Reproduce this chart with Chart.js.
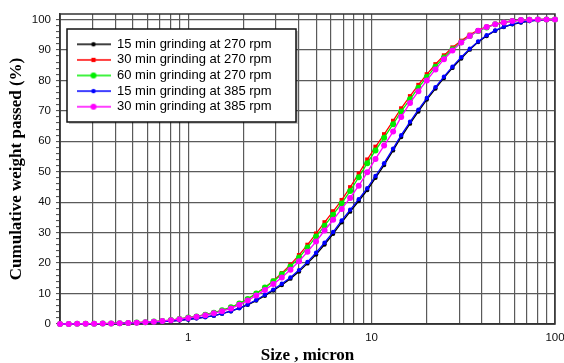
<!DOCTYPE html>
<html>
<head>
<meta charset="utf-8">
<script src="https://cdn.jsdelivr.net/npm/chart.js@4"></script>
<style>
html,body{margin:0;padding:0;overflow:hidden;background:#fff;width:564px;height:363px}
canvas{display:block}
</style>
</head>
<body>
<canvas id="c" width="580" height="370"></canvas>
<script>
// ---- data ----
const SIZES = [0.2, 0.223, 0.248, 0.276, 0.307, 0.342, 0.38, 0.423, 0.471, 0.524, 0.584, 0.65, 0.723, 0.805, 0.896,
  1.0, 1.11, 1.24, 1.38, 1.53, 1.71, 1.9, 2.11, 2.35, 2.62, 2.91, 3.24, 3.61, 4.02, 4.47, 4.98, 5.54, 6.17, 6.87, 7.64,
  8.51, 9.47, 10.5, 11.7, 13.1, 14.5, 16.2, 18.0, 20.0, 22.3, 24.8, 27.6, 30.8, 34.3, 38.1, 42.4, 47.2, 52.6, 58.5,
  65.2, 72.5, 80.7, 89.9, 100];

const LABELS = ['15 min grinding at 270 rpm', '30 min grinding at 270 rpm', '60 min grinding at 270 rpm',
  '15 min grinding at 385 rpm', '30 min grinding at 385 rpm'];

const S15_270 = [0, 0, 0.03, 0.05, 0.08, 0.11, 0.15, 0.2, 0.26, 0.34, 0.45, 0.58, 0.75, 0.97, 1.2,
  1.5, 1.85, 2.25, 2.75, 3.4, 4.2, 5.2, 6.3, 7.7, 9.3, 11.0, 12.8, 14.9, 17.2, 19.9, 22.8, 26.1, 29.6, 33.4, 36.9,
  40.4, 44.0, 48.0, 52.2, 57.0, 61.4, 65.8, 69.8, 73.7, 77.3, 80.8, 84.1, 87.2, 90.1, 92.6, 94.6, 96.3, 97.5, 98.4,
  99.0, 99.5, 99.8, 99.95, 100];

const S30_270 = [0, 0, 0.05, 0.08, 0.1, 0.15, 0.2, 0.28, 0.36, 0.46, 0.6, 0.78, 1.0, 1.3, 1.65,
  2.1, 2.5, 3.05, 3.7, 4.5, 5.5, 6.7, 8.2, 10.0, 12.0, 14.2, 16.7, 19.5, 22.6, 26.0, 29.7, 33.4, 37.0, 40.7, 44.9,
  49.4, 54.0, 58.2, 62.3, 66.7, 70.8, 74.8, 78.5, 82.0, 85.3, 88.2, 90.8, 93.0, 95.0, 96.5, 97.6, 98.5, 99.1, 99.5,
  99.8, 99.9, 100, 100, 100];

const S60_270 = [0, 0, 0.05, 0.08, 0.1, 0.15, 0.2, 0.28, 0.36, 0.46, 0.6, 0.78, 1.0, 1.3, 1.65,
  2.1, 2.5, 3.05, 3.7, 4.5, 5.5, 6.7, 8.2, 10.0, 12.0, 14.0, 16.3, 18.9, 21.8, 25.1, 28.7, 32.3, 35.9, 39.6, 43.7,
  48.2, 52.8, 57.0, 61.2, 65.6, 69.8, 73.8, 77.6, 81.1, 84.5, 87.5, 90.2, 92.5, 94.6, 96.2, 97.4, 98.4, 99.0, 99.5,
  99.8, 99.9, 100, 100, 100];

const S15_385 = [0, 0, 0.03, 0.05, 0.08, 0.11, 0.15, 0.2, 0.26, 0.34, 0.45, 0.58, 0.75, 0.97, 1.2,
  1.5, 1.85, 2.25, 2.75, 3.4, 4.2, 5.2, 6.4, 7.9, 9.6, 11.3, 13.2, 15.3, 17.7, 20.4, 23.4, 26.7, 30.2, 34.0, 37.5,
  41.0, 44.6, 48.6, 52.8, 57.6, 62.0, 66.4, 70.4, 74.2, 77.8, 81.2, 84.5, 87.6, 90.4, 92.8, 94.8, 96.4, 97.6, 98.5,
  99.1, 99.5, 99.8, 99.95, 100];

const S30_385 = [0, 0, 0.05, 0.08, 0.1, 0.15, 0.2, 0.27, 0.35, 0.45, 0.58, 0.75, 0.97, 1.25, 1.6,
  2.0, 2.4, 2.9, 3.5, 4.2, 5.1, 6.3, 7.7, 9.4, 11.2, 13.1, 15.3, 17.8, 20.6, 23.7, 27.1, 30.7, 34.2, 37.8, 41.4,
  45.4, 49.8, 54.2, 58.6, 63.2, 68.0, 72.6, 76.4, 80.0, 83.6, 86.9, 89.8, 92.4, 94.6, 96.3, 97.5, 98.4, 99.0, 99.5,
  99.8, 99.9, 100, 100, 100];

const X_TICKS = [0.2, 0.3, 0.4, 0.5, 0.6, 0.7, 0.8, 0.9, 1, 2, 3, 4, 5, 6, 7, 8, 9,
  10, 20, 30, 40, 50, 60, 70, 80, 90, 100];
const X_LABELED = [1, 10, 100];

// ---- styles ----
const SERIES = [S15_270, S30_270, S60_270, S15_385, S30_385];
const STYLES = [
  {color: '#000000', style: 'circle', r: 2.2, order: 4},
  {color: '#ff0000', style: 'rect',   r: 3.0, order: 3},
  {color: '#00ee00', style: 'circle', r: 3.0, order: 2},
  {color: '#0000ff', style: 'circle', r: 2.2, order: 1},
  {color: '#ff00ff', style: 'circle', r: 3.0, order: 0}
];
const GRID = '#5a5a5a';
const SANS = '"Liberation Sans", Arial, sans-serif';
const SERIF = '"Liberation Serif", "Times New Roman", serif';

function legendIcon(st) {
  const cv = document.createElement('canvas');
  cv.width = 34; cv.height = 10;
  const g = cv.getContext('2d');
  g.strokeStyle = st.color; g.lineWidth = 1.6;
  g.beginPath(); g.moveTo(0, 5); g.lineTo(34, 5); g.stroke();
  g.fillStyle = st.color;
  if (st.style === 'rect') {
    const h = st.r * Math.SQRT1_2;
    g.fillRect(17 - h, 5 - h, 2 * h, 2 * h);
  } else {
    g.beginPath(); g.arc(17, 5, st.r, 0, Math.PI * 2); g.fill();
  }
  return cv;
}
const ICONS = STYLES.map(legendIcon);

const framePlugin = {
  id: 'framePlugin',
  afterUpdate(chart) {
    const lg = chart.legend, ca = chart.chartArea;
    if (!lg) return;
    lg.left = ca.left + 13.9;
    lg.top = ca.top + 21.2;
    lg.right = ca.left + 240;
    lg.bottom = lg.top + 92;
    lg.width = lg.right - lg.left;
    lg.height = lg.bottom - lg.top;
  },
  beforeDatasetsDraw(chart) {
    const ca = chart.chartArea, ctx = chart.ctx;
    ctx.save();
    ctx.strokeStyle = '#333';
    ctx.lineWidth = 1.5;
    ctx.strokeRect(ca.left, ca.top, ca.right - ca.left, ca.bottom - ca.top);
    ctx.restore();
  },
  afterDraw(chart) {
    const ca = chart.chartArea, ctx = chart.ctx, lg = chart.legend;
    const x0 = ca.left + 7, y0 = ca.top + 15, w = 229, h = 93;
    ctx.save();
    ctx.fillStyle = 'rgba(0,0,0,0.22)';
    ctx.fillRect(x0 + 2, y0 + 2, w, h);
    ctx.fillStyle = '#ffffff';
    ctx.fillRect(x0, y0, w, h);
    ctx.strokeStyle = '#111';
    ctx.lineWidth = 1.5;
    ctx.strokeRect(x0, y0, w, h);
    ctx.restore();
    if (lg) lg.draw();
  }
};

new Chart(document.getElementById('c'), {
  type: 'line',
  data: {
    datasets: SERIES.map((s, i) => ({
      label: LABELS[i],
      data: SIZES.map((x, j) => ({x: x, y: s[j]})),
      borderColor: STYLES[i].color,
      backgroundColor: STYLES[i].color,
      borderWidth: 1.3,
      pointStyle: STYLES[i].style,
      pointRadius: STYLES[i].r,
      pointBorderWidth: 0,
      pointHoverRadius: STYLES[i].r,
      tension: 0,
      order: STYLES[i].order,
      clip: false
    }))
  },
  options: {
    responsive: false,
    animation: false,
    events: [],
    layout: {padding: {left: 0, top: 14, right: 25, bottom: 0}},
    plugins: {
      tooltip: {enabled: false},
      legend: {
        display: true,
        position: 'chartArea',
        align: 'start',
        labels: {
          usePointStyle: true,
          pointStyleWidth: 34,
          padding: 2.6,
          color: '#000',
          font: {family: SANS, size: 13},
          generateLabels: (chart) => Chart.defaults.plugins.legend.labels.generateLabels(chart)
            .map(it => Object.assign({}, it, {pointStyle: ICONS[it.datasetIndex]})),
          sort: (a, b) => a.datasetIndex - b.datasetIndex
        }
      }
    },
    scales: {
      x: {
        type: 'logarithmic',
        min: 0.2,
        max: 100,
        afterBuildTicks: (s) => { s.ticks = X_TICKS.map(v => ({value: v})); },
        afterFit: (s) => { s.height = 46; },
        grid: {color: GRID, lineWidth: 1.2, drawTicks: false},
        border: {display: true, color: '#333', width: 1.5},
        ticks: {
          autoSkip: false, maxRotation: 0, minRotation: 0, padding: 7,
          color: '#111', font: {family: SANS, size: 11.5},
          callback: (v) => X_LABELED.includes(v) ? String(v) : ''
        },
        title: {
          display: true, text: 'Size , micron', color: '#000',
          font: {family: SERIF, size: 17, weight: 'bold'},
          padding: {top: 0, bottom: 4}
        }
      },
      y: {
        min: 0,
        max: 101.8,
        afterFit: (s) => { s.width = 60; },
        grid: {
          color: (c) => (c.tick && c.tick.value % 10 === 0) ? GRID : 'rgba(0,0,0,0)',
          lineWidth: 1.2,
          drawTicks: true,
          tickLength: 4,
          tickColor: '#444',
          tickWidth: 1
        },
        border: {display: true, color: '#333', width: 1.5},
        ticks: {
          stepSize: 2, includeBounds: false, autoSkip: false, padding: 5,
          color: '#111', font: {family: SANS, size: 11.5},
          callback: (v) => v % 10 === 0 ? String(v) : ''
        },
        title: {
          display: true, text: 'Cumulative weight passed (%)', color: '#000',
          font: {family: SERIF, size: 17, weight: 'bold'},
          padding: {top: 6, bottom: 0}
        }
      }
    }
  },
  plugins: [framePlugin]
});
</script>
</body>
</html>
